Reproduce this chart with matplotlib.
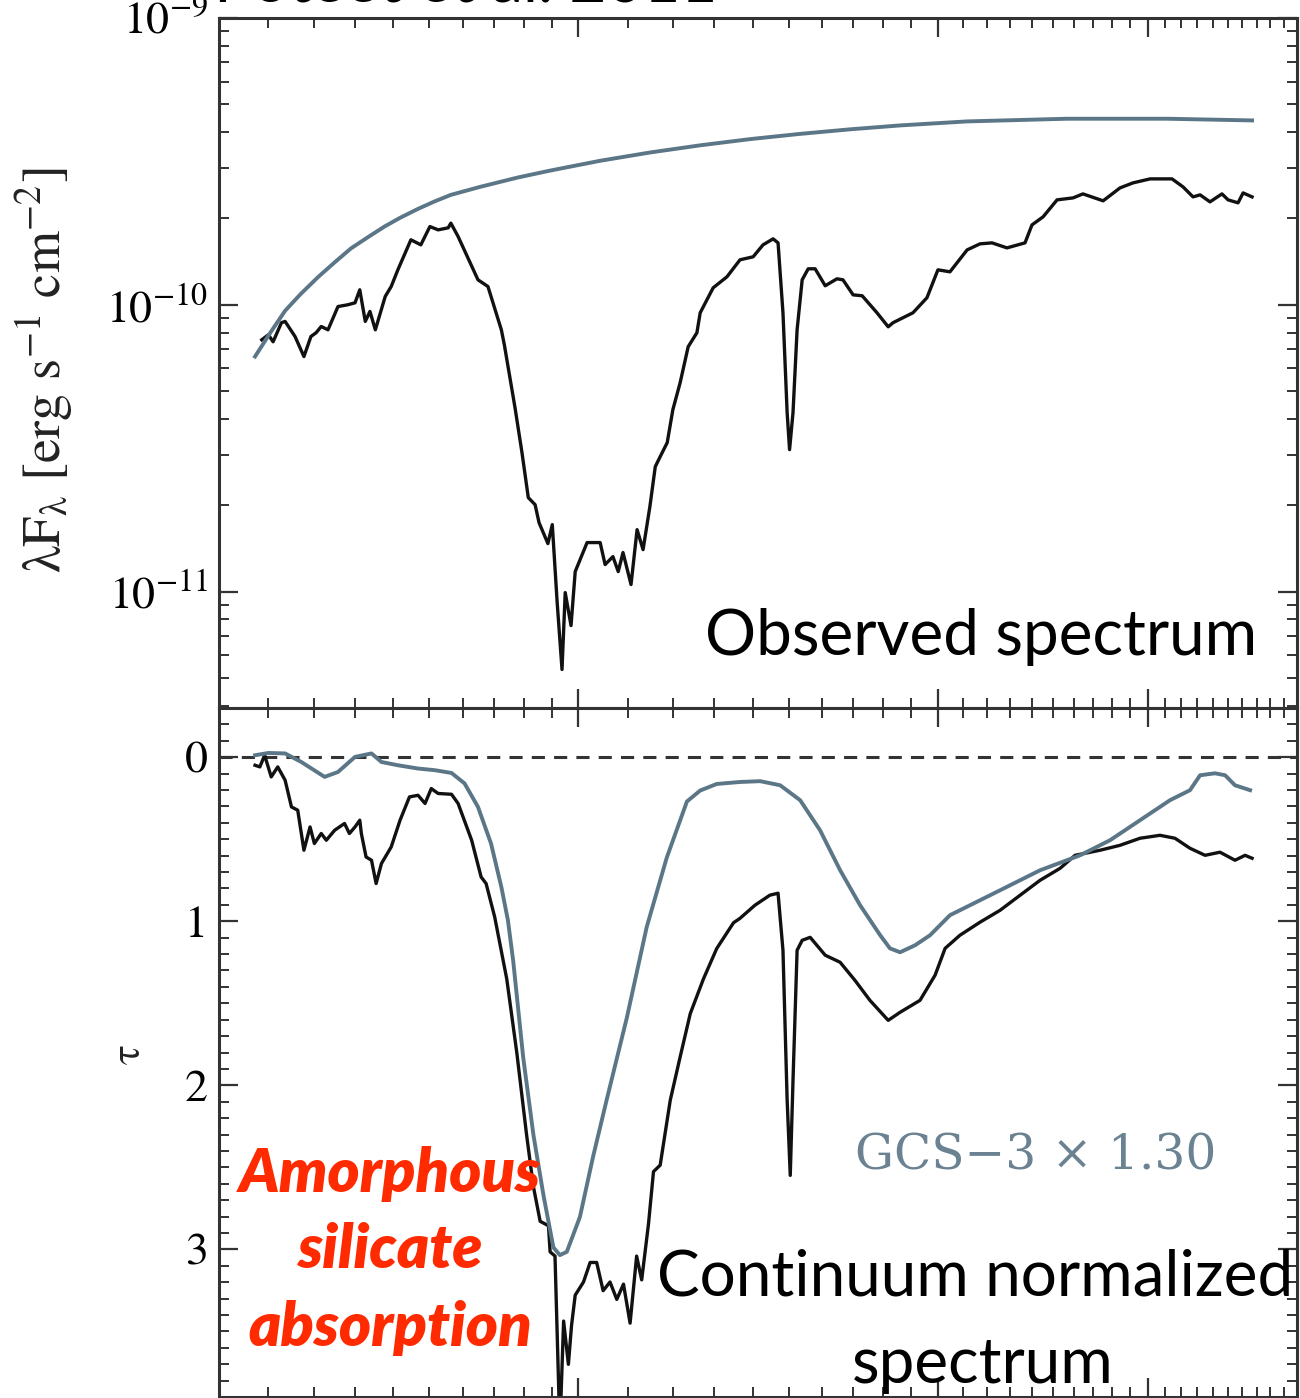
import numpy as np
import matplotlib
matplotlib.use('Agg')
import matplotlib.pyplot as plt
from matplotlib.ticker import FixedLocator, NullFormatter, LogLocator, MultipleLocator, FormatStrFormatter

plt.rcParams['font.family'] = ['STIXGeneral', 'DejaVu Serif']
plt.rcParams['mathtext.fontset'] = 'stix'
plt.rcParams['mathtext.default'] = 'regular'

# observed spectrum (wavelength in micron, lambda F_lambda in 1e-10 erg/s/cm2)
obs_wave = [5.43, 5.50, 5.55, 5.64, 5.68, 5.79, 5.89, 5.97, 6.03, 6.09,
            6.17, 6.29, 6.41, 6.50, 6.56, 6.63, 6.69, 6.76, 6.89, 6.97,
            7.06, 7.24, 7.38, 7.51, 7.63, 7.78, 7.82, 7.93, 8.24, 8.40,
            8.62, 8.67, 8.85, 8.97, 9.08, 9.20, 9.27, 9.43, 9.51, 9.60,
            9.69, 9.75, 9.86, 9.94, 10.17, 10.43, 10.53, 10.69, 10.80, 10.90,
            11.07, 11.20, 11.33, 11.48, 11.60, 11.71, 11.87, 12.00, 12.17, 12.36,
            12.57, 12.65, 12.97, 13.32, 13.66, 14.01, 14.28, 14.56, 14.70, 14.84,
            14.96, 15.03, 15.13, 15.25, 15.40, 15.58, 15.79, 16.10, 16.47, 16.66,
            16.99, 17.29, 17.79, 18.18, 18.35, 19.07, 19.59, 20.01, 20.48, 21.17,
            21.70, 22.21, 22.86, 23.67, 23.99, 24.51, 25.18, 25.97, 26.47, 27.52,
            28.43, 29.15, 30.13, 31.43, 32.11, 32.73, 33.18, 33.82, 34.61, 35.02,
            35.70, 36.05, 36.68]
obs_flux = [0.755, 0.786, 0.743, 0.866, 0.875, 0.775, 0.660, 0.775, 0.799, 0.840,
            0.818, 0.986, 1.000, 1.016, 1.128, 0.875, 0.948, 0.818, 1.069, 1.158,
            1.324, 1.685, 1.618, 1.874, 1.825, 1.855, 1.926, 1.730, 1.222, 1.158,
            0.818, 0.725, 0.438, 0.305, 0.2126, 0.2009, 0.1739, 0.1470, 0.1712, 0.0916,
            0.0535, 0.0992, 0.0761, 0.1174, 0.1482, 0.1482, 0.1242, 0.1324, 0.1174, 0.1368,
            0.1058, 0.1644, 0.1400, 0.1978, 0.2726, 0.2954, 0.3305, 0.4306, 0.535, 0.714,
            0.799, 0.938, 1.146, 1.252, 1.435, 1.470, 1.618, 1.698, 1.644, 0.938,
            0.4205, 0.3125, 0.4205, 0.818, 1.222, 1.335, 1.335, 1.165, 1.232, 1.222,
            1.083, 1.075, 0.938, 0.838, 0.866, 0.938, 1.058, 1.324, 1.303, 1.554,
            1.631, 1.644, 1.579, 1.644, 1.899, 2.026, 2.322, 2.359, 2.436, 2.304,
            2.556, 2.661, 2.748, 2.748, 2.576, 2.378, 2.417, 2.285, 2.436, 2.322,
            2.267, 2.455, 2.378]

# adopted continuum
cont_wave = [5.36, 5.52, 5.68, 5.85, 6.05, 6.25, 6.45, 6.67, 6.88, 7.09,
             7.34, 7.58, 7.82, 8.27, 8.90, 9.47, 10.43, 11.48, 12.65, 13.93,
             15.33, 16.89, 18.60, 21.16, 25.67, 31.13, 36.68]
cont_flux = [0.660, 0.799, 0.953, 1.088, 1.247, 1.406, 1.573, 1.725, 1.874, 2.010,
             2.160, 2.294, 2.417, 2.576, 2.779, 2.937, 3.178, 3.396, 3.598, 3.782,
             3.943, 4.091, 4.221, 4.359, 4.454, 4.454, 4.394]

# optical depth of the source
tau_wave = [5.36, 5.41, 5.46, 5.53, 5.60, 5.68, 5.75, 5.82, 5.89, 5.96,
            6.01, 6.09, 6.15, 6.25, 6.37, 6.43, 6.50, 6.56, 6.58, 6.64,
            6.71, 6.77, 6.84, 6.97, 7.09, 7.22, 7.34, 7.44, 7.53, 7.63,
            7.83, 7.93, 8.14, 8.29, 8.37, 8.51, 8.71, 8.88, 9.05, 9.17,
            9.29, 9.44, 9.47, 9.56, 9.65, 9.72, 9.81, 9.87, 9.94, 10.10,
            10.23, 10.36, 10.49, 10.63, 10.77, 10.91, 11.05, 11.19, 11.30, 11.45,
            11.56, 11.71, 11.94, 12.17, 12.41, 12.73, 13.06, 13.49, 13.66, 14.06,
            14.47, 14.70, 14.84, 14.96, 15.05, 15.13, 15.25, 15.40, 15.64, 16.10,
            16.57, 17.05, 17.55, 18.18, 18.60, 19.33, 19.90, 20.29, 20.88, 21.70,
            22.56, 23.45, 24.37, 25.33, 26.07, 27.36, 28.43, 29.55, 30.71, 31.61,
            32.54, 33.50, 34.48, 35.49, 36.19, 36.68]
tau_obs = [0.049, 0.059, -0.012, 0.120, 0.059, 0.140, 0.303, 0.323, 0.567, 0.425,
           0.526, 0.465, 0.506, 0.445, 0.404, 0.465, 0.425, 0.384, 0.465, 0.608,
           0.628, 0.770, 0.648, 0.547, 0.384, 0.242, 0.232, 0.282, 0.191, 0.221,
           0.226, 0.282, 0.506, 0.730, 0.770, 0.974, 1.351, 1.799, 2.302, 2.618,
           2.829, 2.856, 3.015, 3.041, 4.10, 3.437, 3.701, 3.463, 3.279, 3.199,
           3.080, 3.080, 3.252, 3.199, 3.305, 3.212, 3.450, 3.041, 3.186, 2.843,
           2.526, 2.487, 2.091, 1.827, 1.563, 1.351, 1.166, 1.009, 0.982, 0.902,
           0.841, 0.829, 1.177, 2.091, 2.549, 1.970, 1.177, 1.116, 1.098, 1.207,
           1.250, 1.360, 1.482, 1.604, 1.555, 1.482, 1.329, 1.165, 1.085, 1.006,
           0.933, 0.841, 0.750, 0.677, 0.598, 0.567, 0.537, 0.494, 0.476, 0.494,
           0.555, 0.598, 0.579, 0.628, 0.598, 0.616]

# GCS-3 template x 1.30
gcs_wave = [5.36, 5.50, 5.68, 5.86, 6.13, 6.29, 6.50, 6.71, 6.84, 7.06,
            7.34, 7.58, 7.83, 8.03, 8.24, 8.45, 8.62, 8.73, 8.82, 8.99,
            9.17, 9.35, 9.53, 9.65, 9.78, 10.03, 10.29, 10.56, 10.98, 11.41,
            11.86, 12.33, 12.65, 13.06, 13.66, 14.20, 14.76, 15.34, 15.94, 16.57,
            17.22, 17.90, 18.24, 18.60, 19.15, 19.71, 20.48, 21.29, 22.56, 24.37,
            26.32, 27.89, 29.55, 31.31, 32.54, 33.18, 34.15, 34.82, 35.49, 36.54]
gcs_tau = [-0.012, -0.026, -0.023, 0.029, 0.120, 0.090, -0.002, -0.023, 0.029, 0.049,
           0.069, 0.079, 0.096, 0.160, 0.303, 0.526, 0.791, 0.994, 1.244, 1.827,
           2.302, 2.671, 2.988, 3.035, 3.015, 2.803, 2.433, 2.091, 1.589, 1.035,
           0.612, 0.270, 0.203, 0.163, 0.151, 0.146, 0.171, 0.262, 0.445, 0.689,
           0.902, 1.085, 1.165, 1.189, 1.146, 1.085, 0.963, 0.902, 0.811, 0.689,
           0.598, 0.506, 0.384, 0.262, 0.201, 0.110, 0.098, 0.110, 0.171, 0.201]

BLUE = '#5b7687'
INK = '#111111'
SPINE = '#333333'

W, H = 1300.0, 1398.0
fig = plt.figure(figsize=(13, 13.98), dpi=100)
ax1 = fig.add_axes([219 / W, 1 - 708 / H, 1078 / W, 690 / H])
ax2 = fig.add_axes([219 / W, 1 - 1397 / H, 1078 / W, 689 / H])

ax1.plot(obs_wave, np.array(obs_flux) * 1e-10, color=INK, lw=2.4)
ax1.plot(cont_wave, np.array(cont_flux) * 1e-10, color=BLUE, lw=2.8)
ax1.set_yscale('log')
ax1.set_ylim(10 ** -11.406, 1e-9)

ax2.axhline(0, color=SPINE, lw=2.2, ls=(0, (4.3, 3)))
ax2.plot(tau_wave, tau_obs, color=INK, lw=2.4)
ax2.plot(gcs_wave, gcs_tau, color=BLUE, lw=2.8)
ax2.set_ylim(3.90, -0.30)
ax2.yaxis.set_major_locator(MultipleLocator(1))
ax2.yaxis.set_minor_locator(MultipleLocator(0.1))
ax2.yaxis.set_major_formatter(FormatStrFormatter('%d'))

minor_x = [w / 2 for w in range(11, 20)] + [w for w in range(11, 40) if w not in (20, 30)]
for ax in (ax1, ax2):
    ax.set_xscale('log')
    ax.set_xlim(5, 40)
    ax.xaxis.set_major_locator(FixedLocator([10, 20, 30]))
    ax.xaxis.set_minor_locator(FixedLocator(minor_x))
    ax.xaxis.set_major_formatter(NullFormatter())
    ax.xaxis.set_minor_formatter(NullFormatter())
    ax.tick_params(which='both', direction='in', top=True, right=True, color=SPINE)
    ax.tick_params(which='major', length=14, width=1.6, labelsize=33, pad=8)
    ax.tick_params(which='minor', length=7.5, width=1.4)
    for s in ax.spines.values():
        s.set_linewidth(2.2)
        s.set_color(SPINE)

ax1.yaxis.set_minor_locator(LogLocator(base=10, subs=np.arange(2, 10)))
ax1.yaxis.set_minor_formatter(NullFormatter())

fig.text(45 / W, 1 - 370 / H, r'$\lambda$F$_\lambda$ [erg s$^{-1}$ cm$^{-2}$]',
         rotation=90, ha='center', va='center', fontsize=39, color='#222222')
fig.text(130 / W, 1 - 1055 / H, r'$\tau$', rotation=90, ha='center', va='center',
         fontsize=30, color='#222222')

# annotations (title is cropped at the top edge, as in the source slide)
fig.text(214 / W, 1 - 2 / H, 'Poteet et al. 2011', fontfamily='Lato',
         fontsize=46, ha='left', va='baseline', color='black')
fig.text(1257 / W, 1 - 655 / H, 'Observed spectrum', fontfamily='Lato',
         fontsize=46, ha='right', va='baseline', color='black')
fig.text(975 / W, 1 - 1295 / H, 'Continuum normalized', fontfamily='Lato',
         fontsize=46, ha='center', va='baseline', color='black')
fig.text(983 / W, 1 - 1383 / H, 'spectrum', fontfamily='Lato',
         fontsize=46, ha='center', va='baseline', color='black')
fig.text(855 / W, 1 - 1170 / H, 'GCS\u22123 \u00d7 1.30', fontfamily='DejaVu Serif', fontsize=35,
         ha='left', va='baseline', color='#6a8292')
for line, yb in zip(['Amorphous', 'silicate', 'absorption'], [1192, 1268, 1346]):
    fig.text(390 / W, 1 - yb / H, line, fontfamily='Lato', fontweight='heavy', style='italic',
             fontsize=44, ha='center', va='baseline', color='#ff2a00')

fig.savefig('out.png', dpi=100)
